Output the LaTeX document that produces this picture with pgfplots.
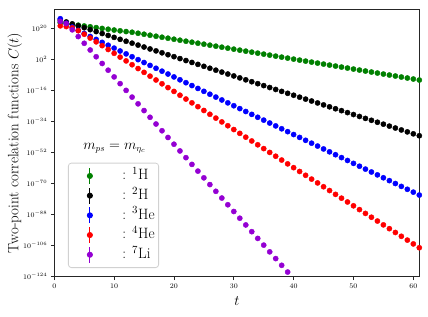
\documentclass[border=0pt]{standalone}
\usepackage{pgfplots}
\pgfplotsset{compat=1.18}
\definecolor{dviolet}{RGB}{148,0,211}
\definecolor{mgreen}{RGB}{0,128,0}
\pgfplotsset{errleg/.style={legend image code/.code={%
  \path[draw=none,fill=none] (0pt,-8pt) rectangle (50pt,8pt);
  \draw[#1,line width=1pt] (18.5pt,-8pt) -- (18.5pt,8pt);
  \fill[#1] (18.5pt,0pt) circle (2.6pt);}}}
\begin{document}
\begin{tikzpicture}
\begin{axis}[name=ax, scale only axis, width=365pt, height=267.4pt,
  xmin=0, xmax=61, ymin=-124, ymax=31,
  xtick={0,10,20,30,40,50,60},
  ytick={-124,-106,-88,-70,-52,-34,-16,2,20},
  yticklabels={$10^{-124}$,$10^{-106}$,$10^{-88}$,$10^{-70}$,$10^{-52}$,$10^{-34}$,$10^{-16}$,$10^{2}$,$10^{20}$},
  tick label style={font=\fontsize{7.5}{9}\selectfont},
  tick align=outside, tick pos=left, major tick length=3.5pt,
  axis line style={black!85, line width=0.8pt},
  every tick/.style={black!85, line width=0.8pt},
  xlabel={$t$}, ylabel={Two-point correlation functions $C(t)$},
  label style={font=\fontsize{15}{18}\selectfont},
  xlabel style={at={(axis description cs:0.5,-0.091)}, anchor=center},
  ylabel style={at={(axis description cs:-0.108,0.5)}, anchor=center},
  legend style={at={(axis description cs:0.0375,0.0325)}, anchor=south west,
    draw=black!18, rounded corners=3pt, line width=0.8pt,
    font=\fontsize{15}{18}\selectfont, inner xsep=3pt, inner ysep=3pt,
    row sep=0pt, nodes={inner ysep=2.1pt, inner xsep=1pt, text height=11.5pt, text depth=4pt}},
  legend cell align=left,
]
\addplot[only marks, mark=*, mark size=2.6pt, color=mgreen, mark options={draw=mgreen, fill=mgreen}, errleg=mgreen] coordinates {
(1,23.20)(2,22.73)(3,22.26)(4,21.79)(5,21.32)(6,20.85)(7,20.38)(8,19.91)(9,19.44)(10,18.97)
(11,18.52)(12,18.10)(13,17.70)(14,17.12)(15,16.55)(16,15.97)(17,15.39)(18,14.81)(19,14.24)(20,13.66)
(21,13.08)(22,12.51)(23,11.93)(24,11.35)(25,10.78)(26,10.20)(27,9.62)(28,9.04)(29,8.47)(30,7.89)
(31,7.31)(32,6.74)(33,6.16)(34,5.58)(35,5.01)(36,4.43)(37,3.85)(38,3.27)(39,2.70)(40,2.12)
(41,1.54)(42,0.97)(43,0.39)(44,-0.19)(45,-0.77)(46,-1.34)(47,-1.92)(48,-2.50)(49,-3.07)(50,-3.65)
(51,-4.23)(52,-4.80)(53,-5.38)(54,-5.96)(55,-6.54)(56,-7.11)(57,-7.69)(58,-8.27)(59,-8.84)(60,-9.42)(61,-10.00)};
\addlegendentry{:\hspace{6pt}$^{1}$H}
\addplot[only marks, mark=*, mark size=2.6pt, color=black, mark options={draw=black, fill=black}, errleg=black] coordinates {
(1,24.78)(2,23.66)(3,22.55)(4,21.43)(5,20.31)(6,19.19)(7,18.07)(8,16.96)(9,15.84)(10,14.72)
(11,13.60)(12,12.48)(13,11.37)(14,10.25)(15,9.13)(16,8.01)(17,6.89)(18,5.78)(19,4.66)(20,3.54)
(21,2.42)(22,1.30)(23,0.19)(24,-0.93)(25,-2.05)(26,-3.17)(27,-4.29)(28,-5.40)(29,-6.52)(30,-7.64)
(31,-8.76)(32,-9.88)(33,-10.99)(34,-12.11)(35,-13.23)(36,-14.35)(37,-15.47)(38,-16.58)(39,-17.70)(40,-18.82)
(41,-19.94)(42,-21.06)(43,-22.17)(44,-23.29)(45,-24.41)(46,-25.53)(47,-26.65)(48,-27.76)(49,-28.88)(50,-30.00)
(51,-31.12)(52,-32.24)(53,-33.35)(54,-34.47)(55,-35.59)(56,-36.71)(57,-37.83)(58,-38.94)(59,-40.06)(60,-41.18)(61,-42.30)};
\addlegendentry{:\hspace{6pt}$^{2}$H}
\addplot[only marks, mark=*, mark size=2.6pt, color=blue, mark options={draw=blue, fill=blue}, errleg=blue] coordinates {
(1,25.53)(2,22.89)(3,20.72)(4,18.79)(5,16.99)(6,15.25)(7,13.55)(8,11.84)(9,10.17)(10,8.50)
(11,6.83)(12,5.16)(13,3.49)(14,1.82)(15,0.15)(16,-1.52)(17,-3.19)(18,-4.86)(19,-6.53)(20,-8.20)
(21,-9.87)(22,-11.54)(23,-13.21)(24,-14.88)(25,-16.55)(26,-18.22)(27,-19.89)(28,-21.56)(29,-23.23)(30,-24.90)
(31,-26.57)(32,-28.24)(33,-29.91)(34,-31.58)(35,-33.25)(36,-34.92)(37,-36.59)(38,-38.26)(39,-39.93)(40,-41.60)
(41,-43.27)(42,-44.94)(43,-46.61)(44,-48.28)(45,-49.95)(46,-51.62)(47,-53.29)(48,-54.96)(49,-56.63)(50,-58.30)
(51,-59.97)(52,-61.64)(53,-63.31)(54,-64.98)(55,-66.65)(56,-68.32)(57,-69.99)(58,-71.66)(59,-73.33)(60,-75.00)(61,-76.67)};
\addlegendentry{:\hspace{6pt}$^{3}$He}
\addplot[only marks, mark=*, mark size=2.6pt, color=red, mark options={draw=red, fill=red}, errleg=red] coordinates {
(1,21.40)(2,21.00)(3,20.20)(4,18.60)(5,16.55)(6,14.34)(7,12.13)(8,9.92)(9,7.71)(10,5.50)
(11,3.29)(12,1.08)(13,-1.13)(14,-3.34)(15,-5.55)(16,-7.76)(17,-9.97)(18,-12.18)(19,-14.39)(20,-16.60)
(21,-18.81)(22,-21.02)(23,-23.23)(24,-25.44)(25,-27.65)(26,-29.86)(27,-32.07)(28,-34.28)(29,-36.49)(30,-38.70)
(31,-40.91)(32,-43.12)(33,-45.33)(34,-47.54)(35,-49.75)(36,-51.96)(37,-54.17)(38,-56.38)(39,-58.59)(40,-60.80)
(41,-63.01)(42,-65.22)(43,-67.43)(44,-69.64)(45,-71.85)(46,-74.06)(47,-76.27)(48,-78.48)(49,-80.69)(50,-82.90)
(51,-85.11)(52,-87.32)(53,-89.53)(54,-91.74)(55,-93.95)(56,-96.16)(57,-98.37)(58,-100.58)(59,-102.79)(60,-105.00)(61,-107.21)};
\addlegendentry{:\hspace{6pt}$^{4}$He}
\addplot[only marks, mark=*, mark size=2.6pt, color=dviolet, mark options={draw=dviolet, fill=dviolet}, errleg=dviolet] coordinates {
(1,24.00)(2,22.70)(3,19.10)(4,15.20)(5,11.30)(6,7.40)(7,3.50)(8,-0.40)(9,-4.30)(10,-8.20)
(11,-12.10)(12,-16.00)(13,-19.90)(14,-23.80)(15,-27.70)(16,-31.60)(17,-35.50)(18,-39.40)(19,-43.30)(20,-47.20)
(21,-51.10)(22,-55.00)(23,-58.90)(24,-62.80)(25,-66.70)(26,-70.60)(27,-74.50)(28,-78.40)(29,-82.30)(30,-86.20)
(31,-90.10)(32,-94.00)(33,-97.90)(34,-101.80)(35,-105.70)(36,-109.60)(37,-113.50)(38,-117.40)(39,-121.30)};
\addlegendentry{:\hspace{6pt}$^{7}$Li}
\node[font=\fontsize{13.5}{16}\selectfont] at (axis description cs:0.165,0.481) {$m_{ps} = m_{\eta_c}$};
\end{axis}
\path ([shift={(-54.3pt,-39.3pt)}]ax.south west) rectangle ++(428pt,316pt);
\end{tikzpicture}
\end{document}
